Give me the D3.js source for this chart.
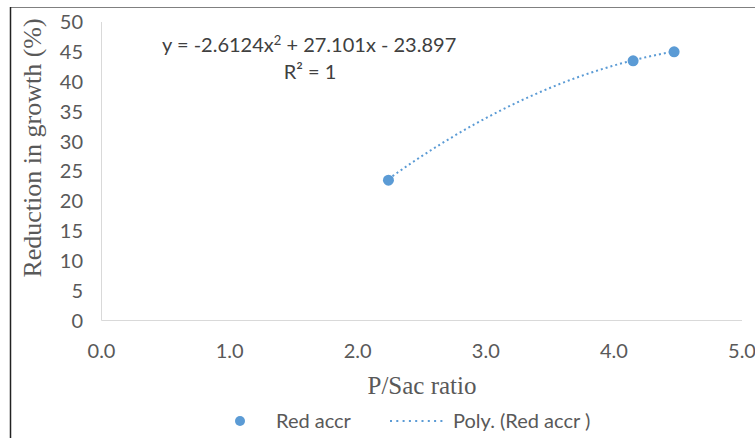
<!DOCTYPE html>
<html>
<head>
<meta charset="utf-8">
<script src="https://cdn.jsdelivr.net/npm/d3@7"></script>
<style>
  body { margin: 0; background: #fff; }
  svg { display: block; }
</style>
</head>
<body>
<div id="chart"></div>
<script>
// data
var ratio = [2.24, 4.15, 4.47];
var reduction = [23.5, 43.5, 45.0];
var polyCoef = [-2.6124, 27.101, -23.897]; // a x^2 + b x + c, from the trendline label
var xTicks = [0, 1, 2, 3, 4, 5];
var yTicks = [0, 5, 10, 15, 20, 25, 30, 35, 40, 45, 50];
var seriesName = "Red accr";
var trendName = "Poly. (Red accr )";

var W = 755, H = 438;
var blue = "#5B9BD5";
var sans = "Lato, 'Open Sans', sans-serif";
var serif = "'Liberation Serif', 'DejaVu Serif', serif";
var fs = "20px";

var svg = d3.select("#chart").append("svg")
  .attr("width", W)
  .attr("height", H);

// chart outline (cut off on right/bottom like the reference)
svg.append("line")
  .attr("x1", 10).attr("x2", W).attr("y1", 7.5).attr("y2", 7.5)
  .attr("stroke", "#808080").attr("stroke-width", 1.2);
svg.append("line")
  .attr("x1", 10.5).attr("x2", 10.5).attr("y1", 7).attr("y2", H)
  .attr("stroke", "#222").attr("stroke-width", 1.5);

var x = d3.scaleLinear().domain([0, 5]).range([101.5, 742]);
var y = d3.scaleLinear().domain([0, 50]).range([320.5, 22]);

// axes lines
svg.append("line")
  .attr("x1", x(0)).attr("x2", x(5)).attr("y1", y(0)).attr("y2", y(0))
  .attr("stroke", "#D9D9D9").attr("stroke-width", 1);
svg.append("line")
  .attr("x1", x(0)).attr("x2", x(0)).attr("y1", y(0)).attr("y2", y(50))
  .attr("stroke", "#D9D9D9").attr("stroke-width", 1);

// tick labels
svg.append("g").selectAll("text")
  .data(yTicks)
  .enter().append("text")
  .attr("x", 83)
  .attr("y", d => y(d))
  .attr("dy", "0.36em")
  .attr("text-anchor", "end")
  .style("font-family", sans)
  .style("font-size", fs)
  .attr("fill", "#595959")
  .text(d => d);

svg.append("g").selectAll("text")
  .data(xTicks)
  .enter().append("text")
  .attr("x", d => x(d))
  .attr("y", 358)
  .attr("text-anchor", "middle")
  .style("font-family", sans)
  .style("font-size", fs)
  .attr("fill", "#595959")
  .text(d => d3.format(".1f")(d));

// axis titles
svg.append("text")
  .attr("x", 422)
  .attr("y", 394)
  .attr("text-anchor", "middle")
  .style("font-family", serif)
  .style("font-size", "25px")
  .attr("fill", "#595959")
  .text("P/Sac ratio");

svg.append("text")
  .attr("transform", "translate(41,148) rotate(-90)")
  .attr("text-anchor", "middle")
  .style("font-family", serif)
  .style("font-size", "26px")
  .attr("fill", "#595959")
  .text("Reduction in growth (%)");

// polynomial trendline between the min and max x
var poly = t => polyCoef[0] * t * t + polyCoef[1] * t + polyCoef[2];
var xMin = d3.min(ratio), xMax = d3.max(ratio);
var trend = d3.range(0, 61).map(i => {
  var t = xMin + (xMax - xMin) * i / 60;
  return [t, poly(t)];
});

svg.append("path")
  .datum(trend)
  .attr("d", d3.line().x(d => x(d[0])).y(d => y(d[1])))
  .attr("fill", "none")
  .attr("stroke", blue)
  .attr("stroke-width", 2)
  .attr("stroke-dasharray", "2,3");

// points
svg.append("g").selectAll("circle")
  .data(ratio.map((r, i) => ({x: r, y: reduction[i]})))
  .enter().append("circle")
  .attr("cx", d => x(d.x))
  .attr("cy", d => y(d.y))
  .attr("r", 5.5)
  .attr("fill", blue);

// trendline equation
var eq = svg.append("text")
  .attr("x", 162)
  .attr("y", 52)
  .style("font-family", sans)
  .style("font-size", fs)
  .attr("fill", "#404040");
eq.append("tspan").text("y = " + polyCoef[0] + "x");
eq.append("tspan").attr("dy", -7).style("font-size", "13px").text("2");
eq.append("tspan").attr("dy", 7).text(" + " + polyCoef[1] + "x - " + Math.abs(polyCoef[2]));

svg.append("text")
  .attr("x", 310)
  .attr("y", 79)
  .attr("text-anchor", "middle")
  .style("font-family", sans)
  .style("font-size", fs)
  .attr("fill", "#404040")
  .text("R² = 1");

// legend
var leg = svg.append("g");
leg.append("circle")
  .attr("cx", 240).attr("cy", 421).attr("r", 5)
  .attr("fill", blue);
leg.append("text")
  .attr("x", 276).attr("y", 428)
  .style("font-family", sans)
  .style("font-size", fs)
  .attr("fill", "#595959")
  .text(seriesName);
leg.append("line")
  .attr("x1", 390).attr("x2", 444).attr("y1", 421).attr("y2", 421)
  .attr("stroke", blue)
  .attr("stroke-width", 2)
  .attr("stroke-dasharray", "2,4.3");
leg.append("text")
  .attr("x", 453).attr("y", 428)
  .style("font-family", sans)
  .style("font-size", fs)
  .attr("fill", "#595959")
  .text(trendName);
</script>
</body>
</html>
